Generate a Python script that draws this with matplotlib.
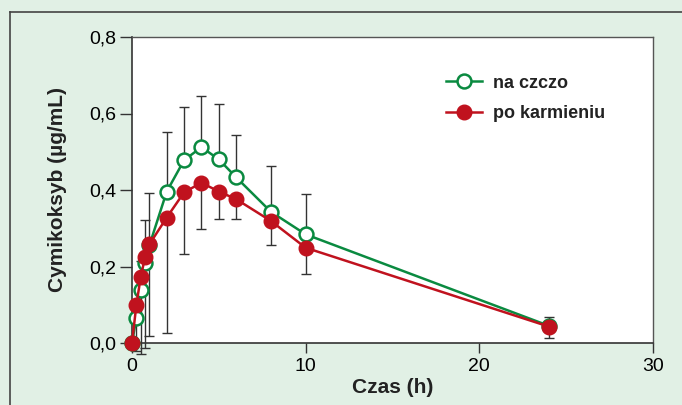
import matplotlib
matplotlib.use("Agg")
import matplotlib.pyplot as plt
from matplotlib.lines import Line2D
from matplotlib.ticker import FuncFormatter

plt.rcParams['font.family'] = ['Liberation Sans', 'DejaVu Sans']

# time points (h)
czas = [0, 0.25, 0.5, 0.75, 1, 2, 3, 4, 5, 6, 8, 10, 24]

# fasted (na czczo) mean and upper end of error bar
na_czczo = [0.0, 0.065, 0.139, 0.209, 0.255, 0.396, 0.478, 0.512, 0.480, 0.433, 0.343, 0.284, 0.045]
na_czczo_gora = [0.0, 0.100, 0.215, 0.322, 0.391, 0.552, 0.618, 0.646, 0.624, 0.544, 0.463, 0.389, 0.069]

# fed (po karmieniu) mean and lower end of error bar
po_karmieniu = [0.0, 0.099, 0.172, 0.224, 0.258, 0.328, 0.394, 0.419, 0.396, 0.376, 0.319, 0.249, 0.043]
po_karmieniu_dol = [0.0, -0.020, -0.030, -0.013, 0.017, 0.027, 0.233, 0.297, 0.324, 0.323, 0.255, 0.180, 0.012]

x_ticks = [0, 10, 20, 30]
y_ticks = [0.0, 0.2, 0.4, 0.6, 0.8]

GREEN = "#0a8a40"
RED = "#c0121e"
BG = "#e1f0e5"
ERR = "#333333"

fig = plt.figure(figsize=(6.82, 4.05), dpi=100, facecolor=BG)
ax = fig.add_axes([132 / 682, 62 / 405, 521 / 682, 306 / 405])
ax.set_facecolor("white")

# frame lines of the box
fig.add_artist(Line2D([10 / 682, 1.0], [1 - 12 / 405, 1 - 12 / 405], color="#444444", lw=1.2))
fig.add_artist(Line2D([10 / 682, 10 / 682], [0, 1 - 12 / 405], color="#444444", lw=1.2))

# error bars (green upward, red downward)
up = [g - m for g, m in zip(na_czczo_gora, na_czczo)]
down = [m - d for m, d in zip(po_karmieniu, po_karmieniu_dol)]
ax.errorbar(czas[1:], na_czczo[1:], yerr=[[0] * len(up[1:]), up[1:]], fmt="none",
            ecolor=ERR, elinewidth=1, capsize=3.5, capthick=1, zorder=2, clip_on=False)
ax.errorbar(czas[1:], po_karmieniu[1:], yerr=[down[1:], [0] * len(down[1:])], fmt="none",
            ecolor=ERR, elinewidth=1, capsize=3.5, capthick=1, zorder=2, clip_on=False)

ax.plot(czas, na_czczo, color=GREEN, lw=1.8, marker="o", markersize=10,
        markerfacecolor="white", markeredgecolor=GREEN, markeredgewidth=1.8,
        zorder=3, clip_on=False)
ax.plot(czas, po_karmieniu, color=RED, lw=1.8, marker="o", markersize=10.5,
        markerfacecolor=RED, markeredgecolor=RED, zorder=4, clip_on=False)

ax.set_xlim(0, 30)
ax.set_ylim(0, 0.8)
ax.set_xticks(x_ticks)
ax.set_yticks(y_ticks)
ax.yaxis.set_major_formatter(FuncFormatter(lambda v, p: f"{v:.1f}".replace(".", ",")))
ax.tick_params(axis="x", direction="out", length=7, width=1, labelsize=14, pad=4, color="#333333")
ax.tick_params(axis="y", direction="out", length=9, width=1, labelsize=14, pad=2, color="#333333")

for side in ["left", "bottom"]:
    ax.spines[side].set_color("#333333")
    ax.spines[side].set_linewidth(1.2)
for side in ["top", "right"]:
    ax.spines[side].set_color("#555555")
    ax.spines[side].set_linewidth(1)

ax.set_xlabel("Czas (h)", fontsize=15, fontweight="bold", color="#222222", labelpad=2)
ax.set_ylabel("Cymikoksyb (µg/mL)", fontsize=15, fontweight="bold", color="#222222", labelpad=16)

handles = [
    Line2D([], [], color=GREEN, lw=1.8, marker="o", markersize=10,
           markerfacecolor="white", markeredgecolor=GREEN, markeredgewidth=1.8),
    Line2D([], [], color=RED, lw=1.8, marker="o", markersize=10.5,
           markerfacecolor=RED, markeredgecolor=RED),
]
leg = ax.legend(handles, ["na czczo", "po karmieniu"], loc="upper left",
                bbox_to_anchor=(0.572, 0.93), frameon=False, handlelength=2.0,
                handletextpad=0.6, labelspacing=0.75, prop={"size": 13, "weight": "bold"})
for t in leg.get_texts():
    t.set_color("#222222")

fig.savefig("out.png", dpi=100, facecolor=BG)
